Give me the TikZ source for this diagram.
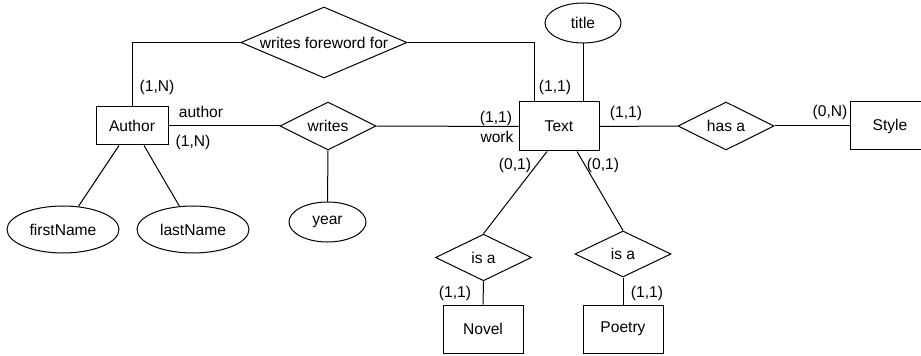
\documentclass[tikz,border=0pt]{standalone}
\usepackage{fontspec}
\setmainfont{Liberation Sans}
\usetikzlibrary{shapes.geometric}

\begin{document}
\begin{tikzpicture}[x=0.75pt, y=-0.75pt, line width=0.75pt,
        every node/.style={font=\fontsize{11.7pt}{14pt}\selectfont},
        entity/.style={draw, rectangle, minimum width=60pt, minimum height=36pt, inner sep=0pt},
        relation/.style={draw, diamond, aspect=2, inner sep=0pt, minimum width=72pt, minimum height=36pt},
        attr/.style={draw, ellipse, inner sep=0pt, minimum width=57pt, minimum height=30pt},
        card/.style={inner sep=0pt}]
            \useasboundingbox (0, 0) rectangle (921, 356);

            \node[entity, minimum width=54pt, minimum height=28.5pt] (author) at (132, 126) {Author};
            \node[entity, minimum height=36.75pt] (text) at (559, 126.5) {Text};
            \node[entity] (style) at (890, 126) {Style};
            \node[entity] (novel) at (483, 329) {Novel};
            \node[entity] (poetry) at (623, 329) {Poetry};

            \node[relation, aspect=2.4, minimum width=124.5pt, minimum height=53.25pt] (foreword) at (324, 42.5) {writes foreword for};
            \node[relation] (writes) at (328, 126) {writes};
            \node[relation] (hasa) at (726, 126) {has a};
            \node[relation, minimum height=35pt] (isa1) at (483.5, 257.5) {is a};
            \node[relation, minimum height=34.5pt] (isa2) at (623, 254) {is a};

            \node[attr] (title) at (583, 23) {title};
            \node[attr, minimum width=84pt, minimum height=35.25pt] (firstname) at (63, 229.5) {firstName};
            \node[attr, minimum width=84pt, minimum height=35.25pt] (lastname) at (193, 229.5) {lastName};
            \node[attr, minimum width=57.75pt] (year) at (327.5, 222) {year};

            \draw (author.north) |- (foreword.west);
            \draw (foreword.east) -| ([xshift=12pt]text.north west);
            \draw (title.south) -- (title.south |- text.north);
            \draw (author.east) -- (writes.west);
            \draw (writes.east) -- (text.west);
            \draw (writes.south) -- (year.north);
            \draw (text.east) -- (hasa.west);
            \draw (hasa.east) -- (style.west);
            \draw ([xshift=-9.75pt]author.south) -- (firstname);
            \draw ([xshift=9pt]author.south) -- (lastname);
            \draw ([xshift=-9pt]text.south) -- (isa1.north);
            \draw ([xshift=13.5pt]text.south) -- (isa2.north);
            \draw (isa1.south) -- (novel.north);
            \draw (isa2.south) -- (poetry.north);

            \node[card] (c1) at (157, 87) {(1,N)};
            \node[card] (c2) at (201, 112) {author};
            \node[card] (c3) at (193, 142) {(1,N)};
            \node[card] (c4) at (496, 118) {(1,1)};
            \node[card] (c5) at (497, 137) {work};
            \node[card] (c6) at (555, 87) {(1,1)};
            \node[card] (c7) at (626, 113) {(1,1)};
            \node[card] (c8) at (830, 112) {(0,N)};
            \node[card] (c9) at (515, 165) {(0,1)};
            \node[card] (c10) at (603, 165) {(0,1)};
            \node[card] (c11) at (455, 293) {(1,1)};
            \node[card] (c12) at (647, 293) {(1,1)};

        \end{tikzpicture}
\end{document}
